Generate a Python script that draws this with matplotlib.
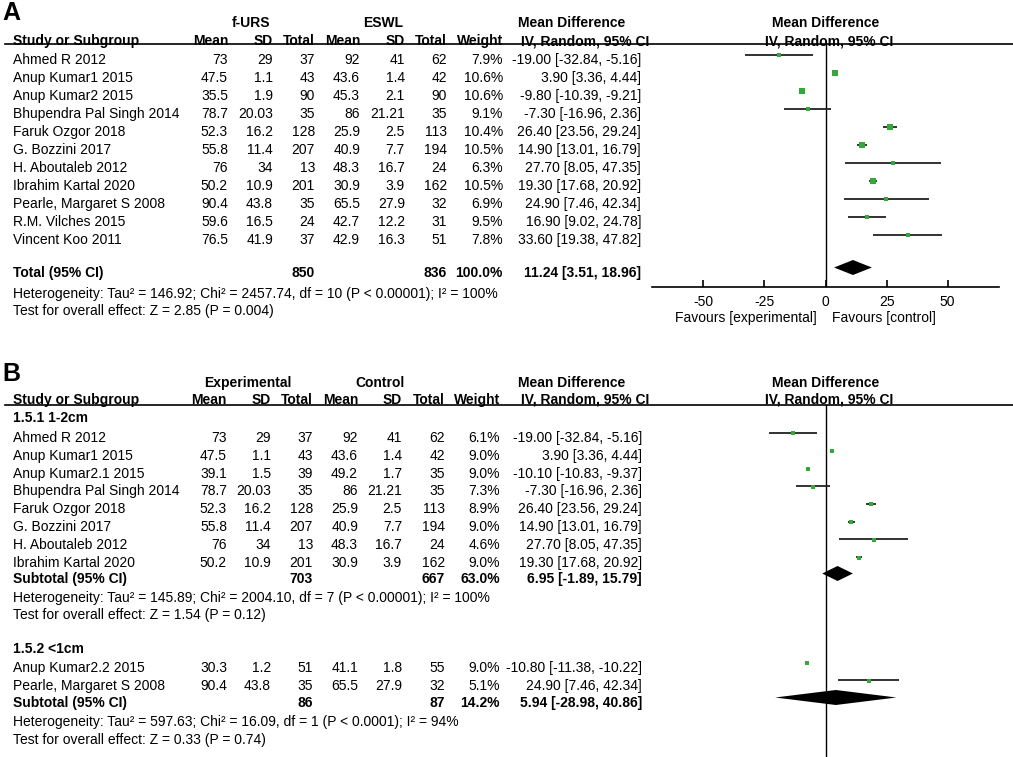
import matplotlib
matplotlib.use("Agg")
import matplotlib.pyplot as plt

plt.rcParams['font.family'] = ['Liberation Sans', 'DejaVu Sans']
plt.rcParams['font.size'] = 10

# ---------------- panel A data ----------------
a_studies = ["Ahmed R 2012", "Anup Kumar1 2015", "Anup Kumar2 2015",
             "Bhupendra Pal Singh 2014", "Faruk Ozgor 2018", "G. Bozzini 2017",
             "H. Aboutaleb 2012", "Ibrahim Kartal 2020", "Pearle, Margaret S 2008",
             "R.M. Vilches 2015", "Vincent Koo 2011"]
a_exp_mean = [73, 47.5, 35.5, 78.7, 52.3, 55.8, 76, 50.2, 90.4, 59.6, 76.5]
a_exp_sd = [29, 1.1, 1.9, 20.03, 16.2, 11.4, 34, 10.9, 43.8, 16.5, 41.9]
a_exp_n = [37, 43, 90, 35, 128, 207, 13, 201, 35, 24, 37]
a_ctl_mean = [92, 43.6, 45.3, 86, 25.9, 40.9, 48.3, 30.9, 65.5, 42.7, 42.9]
a_ctl_sd = [41, 1.4, 2.1, 21.21, 2.5, 7.7, 16.7, 3.9, 27.9, 12.2, 16.3]
a_ctl_n = [62, 42, 90, 35, 113, 194, 24, 162, 32, 31, 51]
a_weight = [7.9, 10.6, 10.6, 9.1, 10.4, 10.5, 6.3, 10.5, 6.9, 9.5, 7.8]
a_md = [-19.00, 3.90, -9.80, -7.30, 26.40, 14.90, 27.70, 19.30, 24.90, 16.90, 33.60]
a_lo = [-32.84, 3.36, -10.39, -16.96, 23.56, 13.01, 8.05, 17.68, 7.46, 9.02, 19.38]
a_hi = [-5.16, 4.44, -9.21, 2.36, 29.24, 16.79, 47.35, 20.92, 42.34, 24.78, 47.82]
a_tot_n = [850, 836]
a_tot_weight = 100.0
a_tot_md = [11.24, 3.51, 18.96]
a_notes = ["Heterogeneity: Tau² = 146.92; Chi² = 2457.74, df = 10 (P < 0.00001); I² = 100%",
           "Test for overall effect: Z = 2.85 (P = 0.004)"]
a_ticks = [-50, -25, 0, 25, 50]

# ---------------- panel B data ----------------
b1_name = "1.5.1 1-2cm"
b1_studies = ["Ahmed R 2012", "Anup Kumar1 2015", "Anup Kumar2.1 2015",
              "Bhupendra Pal Singh 2014", "Faruk Ozgor 2018", "G. Bozzini 2017",
              "H. Aboutaleb 2012", "Ibrahim Kartal 2020"]
b1_exp_mean = [73, 47.5, 39.1, 78.7, 52.3, 55.8, 76, 50.2]
b1_exp_sd = [29, 1.1, 1.5, 20.03, 16.2, 11.4, 34, 10.9]
b1_exp_n = [37, 43, 39, 35, 128, 207, 13, 201]
b1_ctl_mean = [92, 43.6, 49.2, 86, 25.9, 40.9, 48.3, 30.9]
b1_ctl_sd = [41, 1.4, 1.7, 21.21, 2.5, 7.7, 16.7, 3.9]
b1_ctl_n = [62, 42, 35, 35, 113, 194, 24, 162]
b1_weight = [6.1, 9.0, 9.0, 7.3, 8.9, 9.0, 4.6, 9.0]
b1_md = [-19.00, 3.90, -10.10, -7.30, 26.40, 14.90, 27.70, 19.30]
b1_lo = [-32.84, 3.36, -10.83, -16.96, 23.56, 13.01, 8.05, 17.68]
b1_hi = [-5.16, 4.44, -9.37, 2.36, 29.24, 16.79, 47.35, 20.92]
b1_sub_n = [703, 667]
b1_sub_weight = 63.0
b1_sub_md = [6.95, -1.89, 15.79]
b1_notes = ["Heterogeneity: Tau² = 145.89; Chi² = 2004.10, df = 7 (P < 0.00001); I² = 100%",
            "Test for overall effect: Z = 1.54 (P = 0.12)"]

b2_name = "1.5.2 <1cm"
b2_studies = ["Anup Kumar2.2 2015", "Pearle, Margaret S 2008"]
b2_exp_mean = [30.3, 90.4]
b2_exp_sd = [1.2, 43.8]
b2_exp_n = [51, 35]
b2_ctl_mean = [41.1, 65.5]
b2_ctl_sd = [1.8, 27.9]
b2_ctl_n = [55, 32]
b2_weight = [9.0, 5.1]
b2_md = [-10.80, 24.90]
b2_lo = [-11.38, 7.46]
b2_hi = [-10.22, 42.34]
b2_sub_n = [86, 87]
b2_sub_weight = 14.2
b2_sub_md = [5.94, -28.98, 40.86]
b2_notes = ["Heterogeneity: Tau² = 597.63; Chi² = 16.09, df = 1 (P < 0.0001); I² = 94%",
            "Test for overall effect: Z = 0.33 (P = 0.74)"]

col_heads = ["Mean", "SD", "Total", "Mean", "SD", "Total", "Weight"]

# ---------------- layout (pixels) ----------------
W, H = 1013, 757
GREEN = '#35a83a'
FS = 10
CAP = 5   # half cap height in px, to put the text centre on a row

fig = plt.figure(figsize=(W / 100, H / 100), dpi=100)
tab = fig.add_axes([0, 0, 1, 1])
tab.set_xlim(0, W)
tab.set_ylim(H, 0)
tab.axis('off')


def txt(x, y, s, ha='left', bold=False, size=FS):
    tab.text(x, y + CAP, s, ha=ha, va='baseline', fontsize=size,
             fontweight='bold' if bold else 'normal')


def fmt(v):
    return f"{v:g}"


def ci_str(md, lo, hi):
    return f"{md:.2f} [{lo:.2f}, {hi:.2f}]"


def header(y_grp, y_head, y_line, grp1, grp2, cols, ci_right, x_grp):
    txt(x_grp[0], y_grp, grp1, ha='center', bold=True)
    txt(x_grp[1], y_grp, grp2, ha='center', bold=True)
    txt(13, y_head, "Study or Subgroup", bold=True)
    for x, s in zip(cols, col_heads):
        txt(x, y_head, s, ha='right', bold=True)
    txt(572, y_grp, "Mean Difference", ha='center', bold=True)
    txt(585, y_head, "IV, Random, 95% CI", ha='center', bold=True)
    txt(826, y_grp, "Mean Difference", ha='center', bold=True)
    txt(829, y_head, "IV, Random, 95% CI", ha='center', bold=True)
    tab.plot([5, W], [y_line, y_line], color='black', lw=1.2)


def study_rows(ax, ys, cols, ci_right, names, em, esd, en, cm, csd, cn, w, md, lo, hi):
    for i, y in enumerate(ys):
        txt(13, y, names[i])
        vals = [fmt(em[i]), fmt(esd[i]), str(en[i]), fmt(cm[i]), fmt(csd[i]),
                str(cn[i]), f"{w[i]:.1f}%"]
        for x, s in zip(cols, vals):
            txt(x, y, s, ha='right')
        txt(ci_right, y, ci_str(md[i], lo[i], hi[i]), ha='right')
        ax.plot([lo[i], hi[i]], [y - 4.5, y - 4.5], color='#222222', lw=1.3,
                solid_capstyle='butt', zorder=2)
        ax.plot(md[i], y - 3.8, 's', color=GREEN, mew=0, ms=2.9 + 0.07 * w[i], zorder=3)


def total_row(ax, y, label, cols, ci_right, n, weight, md3):
    txt(13, y, label, bold=True)
    txt(cols[2], y, str(n[0]), ha='right', bold=True)
    txt(cols[5], y, str(n[1]), ha='right', bold=True)
    txt(cols[6], y, f"{weight:.1f}%", ha='right', bold=True)
    txt(ci_right, y, ci_str(*md3), ha='right', bold=True)
    md, lo, hi = md3
    yc = y - 4.5
    ax.fill([lo, md, hi, md], [yc, yc - 7.5, yc, yc + 7.5], color='black', lw=0, zorder=3)


# ================= Panel A =================
tab.text(2, 20, "A", fontsize=18, fontweight='bold', va='baseline')
a_cols = [228, 273, 315, 360, 405, 447, 503]
a_ci = 641
header(22, 40, 44, "f-URS", "ESWL", a_cols, a_ci, [251, 383])

fa = fig.add_axes([652 / W, 1 - 287 / H, 347 / W, (287 - 44) / H])
fa.patch.set_alpha(0)
fa.set_xlim(-71, 71)
fa.set_ylim(287, 44)
for s in ['top', 'left', 'right']:
    fa.spines[s].set_visible(False)
fa.spines['bottom'].set_linewidth(1.2)
fa.set_yticks([])
fa.set_xticks(a_ticks)
fa.set_xticklabels([str(t) for t in a_ticks])
fa.tick_params(axis='x', direction='in', length=5, width=1.2, pad=6, labelsize=FS)
fa.axvline(0, color='black', lw=1.0, zorder=1)

a_rows = [59 + 18 * i for i in range(len(a_studies))]
study_rows(fa, a_rows, a_cols, a_ci, a_studies, a_exp_mean, a_exp_sd, a_exp_n,
           a_ctl_mean, a_ctl_sd, a_ctl_n, a_weight, a_md, a_lo, a_hi)
total_row(fa, 272, "Total (95% CI)", a_cols, a_ci, a_tot_n, a_tot_weight, a_tot_md)
txt(13, 293, a_notes[0])
txt(13, 310, a_notes[1])
txt(817, 317, "Favours [experimental]", ha='right')
txt(832, 317, "Favours [control]")

# ================= Panel B =================
tab.text(2, 381, "B", fontsize=18, fontweight='bold', va='baseline')
b_cols = [227, 271, 313, 358, 402, 445, 500]
b_ci = 642
header(382, 399, 405, "Experimental", "Control", b_cols, b_ci, [248, 380])

fb = fig.add_axes([652 / W, 0, 347 / W, (H - 405) / H])
fb.patch.set_alpha(0)
fb.set_xlim(-100, 100)
fb.set_ylim(H, 405)
fb.axis('off')
fb.axvline(0, color='black', lw=1.0, zorder=1)

step = 17.8
txt(13, 417, b1_name, bold=True)
b1_rows = [437 + step * i for i in range(len(b1_studies))]
study_rows(fb, b1_rows, b_cols, b_ci, b1_studies, b1_exp_mean, b1_exp_sd, b1_exp_n,
           b1_ctl_mean, b1_ctl_sd, b1_ctl_n, b1_weight, b1_md, b1_lo, b1_hi)
total_row(fb, 578, "Subtotal (95% CI)", b_cols, b_ci, b1_sub_n, b1_sub_weight, b1_sub_md)
txt(13, 597, b1_notes[0])
txt(13, 614, b1_notes[1])

txt(13, 648, b2_name, bold=True)
b2_rows = [667 + step * i for i in range(len(b2_studies))]
study_rows(fb, b2_rows, b_cols, b_ci, b2_studies, b2_exp_mean, b2_exp_sd, b2_exp_n,
           b2_ctl_mean, b2_ctl_sd, b2_ctl_n, b2_weight, b2_md, b2_lo, b2_hi)
total_row(fb, 702, "Subtotal (95% CI)", b_cols, b_ci, b2_sub_n, b2_sub_weight, b2_sub_md)
txt(13, 721, b2_notes[0])
txt(13, 739, b2_notes[1])

fig.savefig("out.png", dpi=100)
